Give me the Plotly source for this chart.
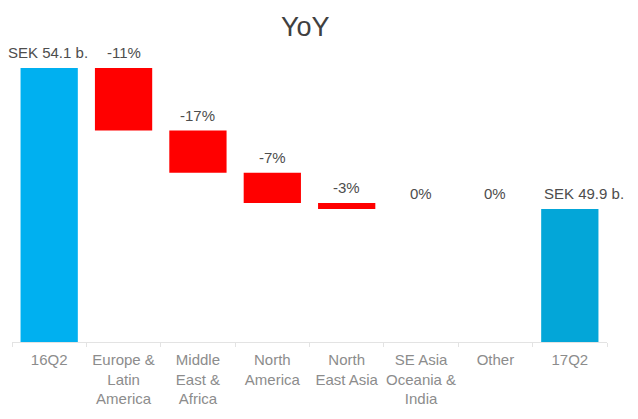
import numpy as np
import plotly.graph_objects as go

categories = ["16Q2", "Europe &<br>Latin<br>America", "Middle<br>East &<br>Africa",
              "North<br>America", "North<br>East Asia", "SE Asia<br>Oceania &<br>India",
              "Other", "17Q2"]
start_value = 54.1
end_value = 49.9
region_changes = [-1.86, -1.26, -0.90, -0.18, 0.0, 0.0]
labels = ["SEK 54.1 b.", "-11%", "-17%", "-7%", "-3%", "0%", "0%", "SEK 49.9 b."]

# label horizontal nudges (styling, px)
label_xshift = [-1, 0, 0, 0, 0, 0, 0, 14]

# running levels
after = start_value + np.cumsum(region_changes)
before = np.concatenate([[start_value], after[:-1]])
bar_base = np.minimum(before, after)
bar_height = np.abs(np.array(region_changes))

fig = go.Figure()
fig.add_trace(go.Bar(x=[categories[0]], y=[start_value], marker_color="#00B0F0",
                     marker_line_width=0, showlegend=False))
fig.add_trace(go.Bar(x=categories[1:-1], y=bar_height, base=bar_base,
                     marker_color="#FF0000", marker_line_width=0, showlegend=False))
fig.add_trace(go.Bar(x=[categories[-1]], y=[end_value], marker_color="#03A6D8",
                     marker_line_width=0, showlegend=False))

tops = [start_value] + list(before) + [end_value]
for cat, top, lab, dx in zip(categories, tops, labels, label_xshift):
    fig.add_annotation(x=cat, y=top, text=lab, showarrow=False, yanchor="bottom",
                       yshift=5, xshift=dx, font=dict(size=15, color="#4d4d4d"))

fig.update_layout(
    width=638, height=419,
    margin=dict(l=4, r=39, t=52, b=85, autoexpand=False),
    paper_bgcolor="white", plot_bgcolor="white",
    bargap=0.23, barmode="overlay",
    font=dict(family="Liberation Sans, Arial, sans-serif"),
    title=dict(text="YoY", x=0.466, xanchor="center", y=0.955, yanchor="middle",
               font=dict(size=27, color="#404040")),
    xaxis=dict(showgrid=False, showline=True, linecolor="#e3e3e3", linewidth=1,
               ticks="outside", tickson="boundaries", ticklen=4, tickcolor="#e3e3e3",
               tickangle=0, automargin=False, range=[-0.5, 7.5], ticklabelstandoff=4,
               categoryorder="array", categoryarray=categories,
               tickfont=dict(size=15, color="#8c8c8c")),
    yaxis=dict(range=[45.94, 54.34], visible=False, showgrid=False),
)

fig.write_html("out.html")
